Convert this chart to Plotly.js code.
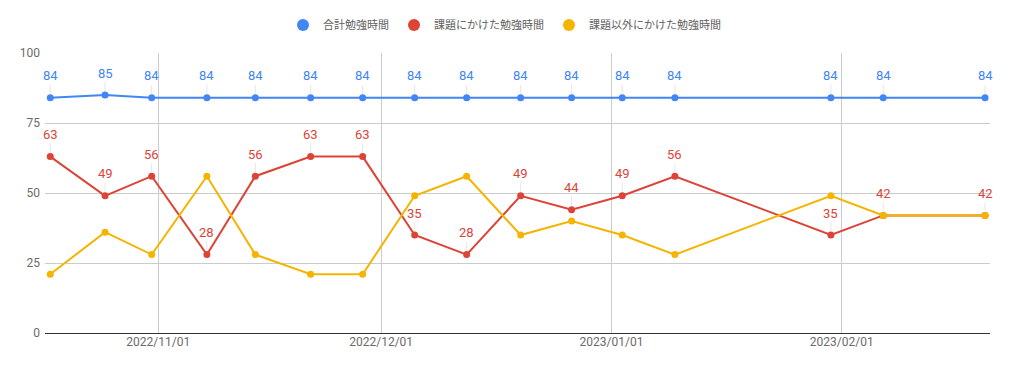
<!DOCTYPE html>
<html>
<head>
<meta charset="utf-8">
<script src="https://cdn.plot.ly/plotly-3.0.1.min.js"></script>
<style>html,body{margin:0;padding:0;background:#fff;}#chart{width:1009px;height:373px;}</style>
</head>
<body>
<div id="chart"></div>
<script>
const dates = [
  '2022-10-17 11:00', '2022-10-24 20:00', '2022-10-31 02:40', '2022-11-07 13:00',
  '2022-11-14 01:30', '2022-11-21 12:15', '2022-11-28 12:15', '2022-12-05 12:15',
  '2022-12-12 12:15', '2022-12-19 18:40', '2022-12-26 15:20', '2023-01-02 10:50',
  '2023-01-09 13:00', '2023-01-30 13:00', '2023-02-06 14:00', '2023-02-20 07:00'
];
const totalHours = [84, 85, 84, 84, 84, 84, 84, 84, 84, 84, 84, 84, 84, 84, 84, 84];
const taskHours  = [63, 49, 56, 28, 56, 63, 63, 35, 28, 49, 44, 49, 56, 35, 42, 42];
const otherHours = [21, 36, 28, 56, 28, 21, 21, 49, 56, 35, 40, 35, 28, 49, 42, 42];
const seriesNames = ['合計勉強時間', '課題にかけた勉強時間', '課題以外にかけた勉強時間'];
const colors = ['#4285F4', '#DB4437', '#F4B400'];
const yTicks = [0, 25, 50, 75, 100];

const seriesData = [totalHours, taskHours, otherHours];
const traces = [];
seriesData.forEach((vals, i) => {
  traces.push({
    x: dates, y: vals, type: 'scatter', mode: 'lines+markers',
    line: {color: colors[i], width: 2},
    marker: {color: colors[i], size: 7},
    showlegend: false, hoverinfo: 'skip'
  });
});
// legend-only entries (circle symbols)
seriesData.forEach((vals, i) => {
  traces.push({
    x: [null], y: [null], type: 'scatter', mode: 'markers',
    name: seriesNames[i],
    marker: {color: colors[i], size: 12},
    showlegend: true, hoverinfo: 'skip'
  });
});

const annotations = [];
[[totalHours, 0], [taskHours, 1]].forEach(([vals, ci]) => {
  vals.forEach((v, j) => {
    annotations.push({
      x: dates[j], y: v, xref: 'x', yref: 'y',
      text: String(v), showarrow: true, arrowhead: 0, arrowwidth: 1,
      arrowcolor: '#e6e6e6', ax: 0, ay: -22, standoff: 4,
      font: {family: 'Roboto, sans-serif', size: 13, color: colors[ci]}
    });
  });
});

const layout = {
  width: 1009, height: 373,
  margin: {l: 45, r: 19, t: 53, b: 40},
  paper_bgcolor: '#fff', plot_bgcolor: '#fff',
  font: {family: 'Roboto, "Noto Sans CJK JP", sans-serif', size: 12, color: '#616161'},
  showlegend: true,
  legend: {
    orientation: 'h', x: 0.5, xanchor: 'center', y: 0.933, yanchor: 'middle',
    xref: 'container', yref: 'container',
    font: {family: 'Roboto, "Noto Sans CJK JP", sans-serif', size: 11, color: '#5f5f5f'},
    itemwidth: 30, tracegroupgap: 0, itemclick: false
  },
  xaxis: {
    type: 'date',
    range: ['2022-10-16 18:00', '2023-02-20 23:00'],
    tick0: '2022-11-01', dtick: 'M1', tickformat: '%Y/%m/%d',
    showgrid: true, gridcolor: '#cccccc', gridwidth: 1,
    zeroline: false, showline: false, ticks: '',
    tickfont: {family: 'Roboto, sans-serif', size: 12, color: '#6b6b6b'}
  },
  yaxis: {
    range: [0, 100], tickvals: yTicks, ticktext: yTicks.map(String),
    showgrid: true, gridcolor: '#cccccc', gridwidth: 1,
    zeroline: true, zerolinecolor: '#333333', zerolinewidth: 1,
    showline: false, ticks: '', ticklabelstandoff: 4,
    tickfont: {family: 'Roboto, sans-serif', size: 12, color: '#6b6b6b'}
  },
  annotations: annotations
};

Plotly.newPlot('chart', traces, layout, {displayModeBar: false, staticPlot: true});
</script>
</body>
</html>
